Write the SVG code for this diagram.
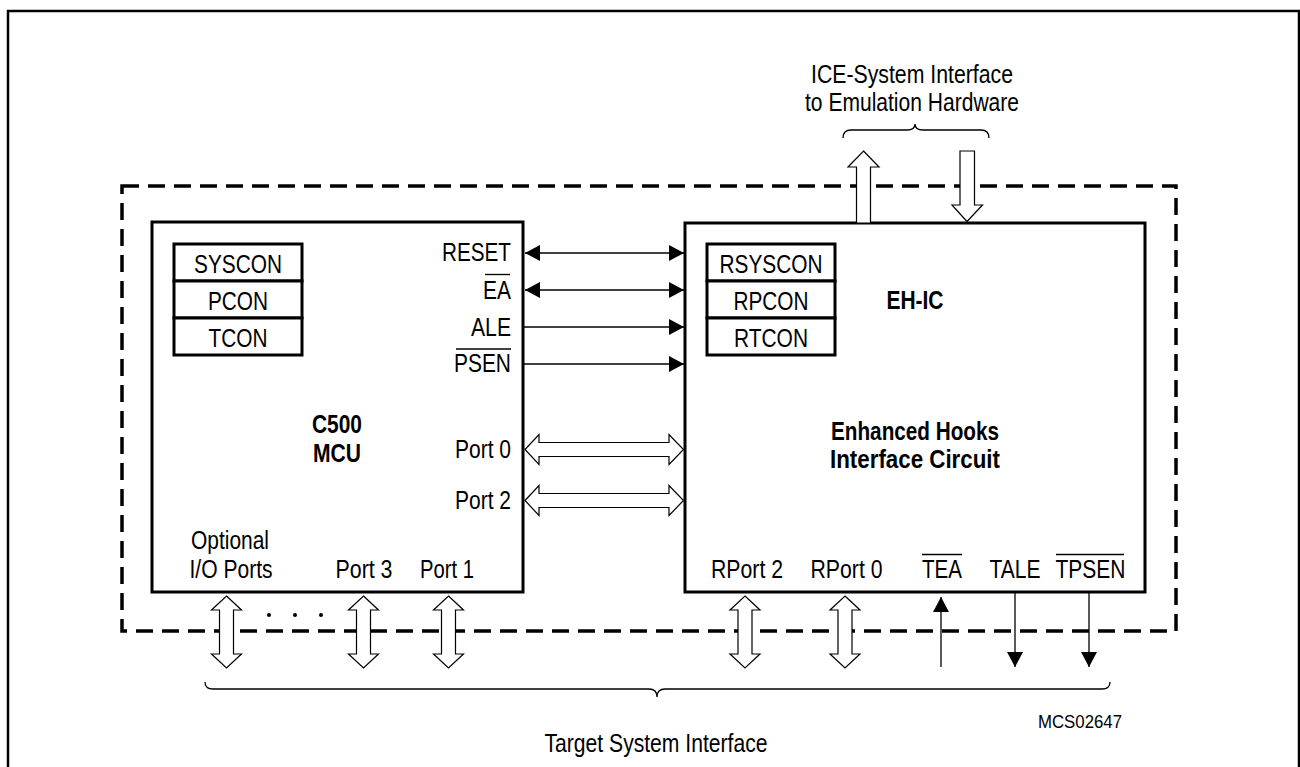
<svg xmlns="http://www.w3.org/2000/svg" width="1300" height="767" viewBox="0 0 1300 767">
<style>
.t{font-family:"Liberation Sans",Arial,sans-serif;font-size:25px;fill:#000}
.b{font-weight:bold}
.m{text-anchor:middle}
.e{text-anchor:end}
.box{fill:#fff;stroke:#000;stroke-width:3}
.reg{fill:#fff;stroke:#000;stroke-width:3}
.hol{fill:#fff;stroke:#000;stroke-width:1.2;stroke-linejoin:miter}
.sig{stroke:#000;stroke-width:1.3;fill:none}
.bar{stroke:#000;stroke-width:1.3}
.brace{fill:none;stroke:#000;stroke-width:1.3}
</style>
<defs>
<marker id="ah" viewBox="0 0 15 16" refX="15" refY="8" markerWidth="15" markerHeight="16" markerUnits="userSpaceOnUse" orient="auto-start-reverse">
<path d="M0,0 L15,8 L0,16 Z" fill="#000"/>
</marker>
</defs>
<rect width="1300" height="767" fill="#fff"/>
<path id="frame" d="M8,767 V11 H1299 V767" fill="none" stroke="#000" stroke-width="2.5"/>
<rect id="boundary" x="122" y="186" width="1054" height="445" fill="none" stroke="#000" stroke-width="3.5" stroke-dasharray="17 9"/>

<g id="mcu">
<rect class="box" x="152" y="222" width="371" height="370"/>
<text class="t b m" x="337" y="433" textLength="50" lengthAdjust="spacingAndGlyphs">C500</text>
<text class="t b m" x="337" y="462" textLength="48" lengthAdjust="spacingAndGlyphs">MCU</text>
<text class="t e" x="511" y="261" textLength="69" lengthAdjust="spacingAndGlyphs">RESET</text>
<text class="t e" x="511" y="299" textLength="28" lengthAdjust="spacingAndGlyphs">EA</text>
<line class="bar" x1="485" y1="274.5" x2="510" y2="274.5"/>
<text class="t e" x="511" y="336" textLength="40" lengthAdjust="spacingAndGlyphs">ALE</text>
<text class="t e" x="511" y="372" textLength="57" lengthAdjust="spacingAndGlyphs">PSEN</text>
<line class="bar" x1="456" y1="349" x2="511" y2="349"/>
<text class="t e" x="511" y="458" textLength="56" lengthAdjust="spacingAndGlyphs">Port 0</text>
<text class="t e" x="511" y="509" textLength="56" lengthAdjust="spacingAndGlyphs">Port 2</text>
<text class="t m" x="230" y="549" textLength="78" lengthAdjust="spacingAndGlyphs">Optional</text>
<text class="t m" x="231" y="578" textLength="83" lengthAdjust="spacingAndGlyphs">I/O Ports</text>
<text class="t m" x="364" y="578" textLength="57" lengthAdjust="spacingAndGlyphs">Port 3</text>
<text class="t m" x="447" y="578" textLength="54" lengthAdjust="spacingAndGlyphs">Port 1</text>
</g>
<g id="mcu-registers">
<rect class="reg" x="174" y="244" width="128" height="37"/>
<rect class="reg" x="174" y="281" width="128" height="37"/>
<rect class="reg" x="174" y="318" width="128" height="37"/>
<text class="t m" x="238" y="273" textLength="88" lengthAdjust="spacingAndGlyphs">SYSCON</text>
<text class="t m" x="238" y="310" textLength="60" lengthAdjust="spacingAndGlyphs">PCON</text>
<text class="t m" x="238" y="347" textLength="59" lengthAdjust="spacingAndGlyphs">TCON</text>
</g>

<g id="ehic">
<rect class="box" x="685" y="223" width="460" height="369"/>
<text class="t b m" x="915" y="309" textLength="57" lengthAdjust="spacingAndGlyphs">EH-IC</text>
<text class="t b m" x="915" y="440" textLength="168" lengthAdjust="spacingAndGlyphs">Enhanced Hooks</text>
<text class="t b m" x="915" y="468" textLength="170" lengthAdjust="spacingAndGlyphs">Interface Circuit</text>
<text class="t m" x="747" y="578" textLength="72" lengthAdjust="spacingAndGlyphs">RPort 2</text>
<text class="t m" x="846.5" y="578" textLength="72" lengthAdjust="spacingAndGlyphs">RPort 0</text>
<text class="t m" x="942" y="578" textLength="40" lengthAdjust="spacingAndGlyphs">TEA</text>
<line class="bar" x1="922" y1="554.5" x2="962" y2="554.5"/>
<text class="t m" x="1015" y="578" textLength="51" lengthAdjust="spacingAndGlyphs">TALE</text>
<text class="t m" x="1090.5" y="578" textLength="70" lengthAdjust="spacingAndGlyphs">TPSEN</text>
<line class="bar" x1="1056" y1="554.5" x2="1124" y2="554.5"/>
</g>
<g id="ehic-registers">
<rect class="reg" x="707" y="244" width="128" height="37"/>
<rect class="reg" x="707" y="281" width="128" height="37"/>
<rect class="reg" x="707" y="318" width="128" height="37"/>
<text class="t m" x="771" y="273" textLength="103" lengthAdjust="spacingAndGlyphs">RSYSCON</text>
<text class="t m" x="771" y="310" textLength="75" lengthAdjust="spacingAndGlyphs">RPCON</text>
<text class="t m" x="771" y="347" textLength="74" lengthAdjust="spacingAndGlyphs">RTCON</text>
</g>

<g id="connectors">
<line class="sig" x1="525" y1="253" x2="684" y2="253" marker-start="url(#ah)" marker-end="url(#ah)"/>
<line class="sig" x1="525" y1="290" x2="684" y2="290" marker-start="url(#ah)" marker-end="url(#ah)"/>
<line class="sig" x1="523" y1="327" x2="684" y2="327" marker-end="url(#ah)"/>
<line class="sig" x1="523" y1="364" x2="684" y2="364" marker-end="url(#ah)"/>
<polygon class="hol" points="525,449.5 539,434.5 539,442.5 669,442.5 669,434.5 683.5,449.5 669,464.5 669,456.5 539,456.5 539,464.5"/>
<polygon class="hol" points="525,500.5 539,485.5 539,493.5 669,493.5 669,485.5 683.5,500.5 669,515.5 669,507.5 539,507.5 539,515.5"/>
<polygon class="hol" points="863.5,151 879,167 870.5,167 870.5,223 856.5,223 856.5,167 848,167"/>
<polygon class="hol" points="960,151 974.5,151 974.5,205 982.5,205 967,221.5 952,205 960,205"/>
<polygon class="hol" points="226.5,596 241.5,610 233.5,610 233.5,654 241.5,654 226.5,668 211.5,654 219.5,654 219.5,610 211.5,610"/>
<polygon class="hol" points="363.5,596 378.5,610 370.5,610 370.5,654 378.5,654 363.5,668 348.5,654 356.5,654 356.5,610 348.5,610"/>
<polygon class="hol" points="448.5,596 463.5,610 455.5,610 455.5,654 463.5,654 448.5,668 433.5,654 441.5,654 441.5,610 433.5,610"/>
<polygon class="hol" points="745,596 760,610 752,610 752,654 760,654 745,668 730,654 738,654 738,610 730,610"/>
<polygon class="hol" points="845,596 860,610 852,610 852,654 860,654 845,668 830,654 838,654 838,610 830,610"/>
<line class="sig" x1="941" y1="667" x2="941" y2="597" marker-end="url(#ah)"/>
<line class="sig" x1="1015" y1="592" x2="1015" y2="667" marker-end="url(#ah)"/>
<line class="sig" x1="1089" y1="592" x2="1089" y2="667" marker-end="url(#ah)"/>
<circle cx="269" cy="615" r="2"/>
<circle cx="295" cy="615" r="2"/>
<circle cx="321" cy="615" r="2"/>
<path class="brace" d="M843,138 Q843,130 851,130 H907 Q915,130 915,124 Q915,130 923,130 H981 Q989,130 989,138"/>
<path class="brace" d="M205,682 Q205,689 213,689 H649 Q657,689 657,697 Q657,689 665,689 H1102 Q1110,689 1110,682"/>
</g>

<g id="labels">
<text class="t m" x="912" y="83" textLength="202" lengthAdjust="spacingAndGlyphs">ICE-System Interface</text>
<text class="t m" x="912" y="111" textLength="214" lengthAdjust="spacingAndGlyphs">to Emulation Hardware</text>
<text class="t m" x="656" y="752" textLength="223" lengthAdjust="spacingAndGlyphs">Target System Interface</text>
<text class="t m" x="1080" y="728" style="font-size:19px" textLength="84" lengthAdjust="spacingAndGlyphs">MCS02647</text>
</g>
</svg>
